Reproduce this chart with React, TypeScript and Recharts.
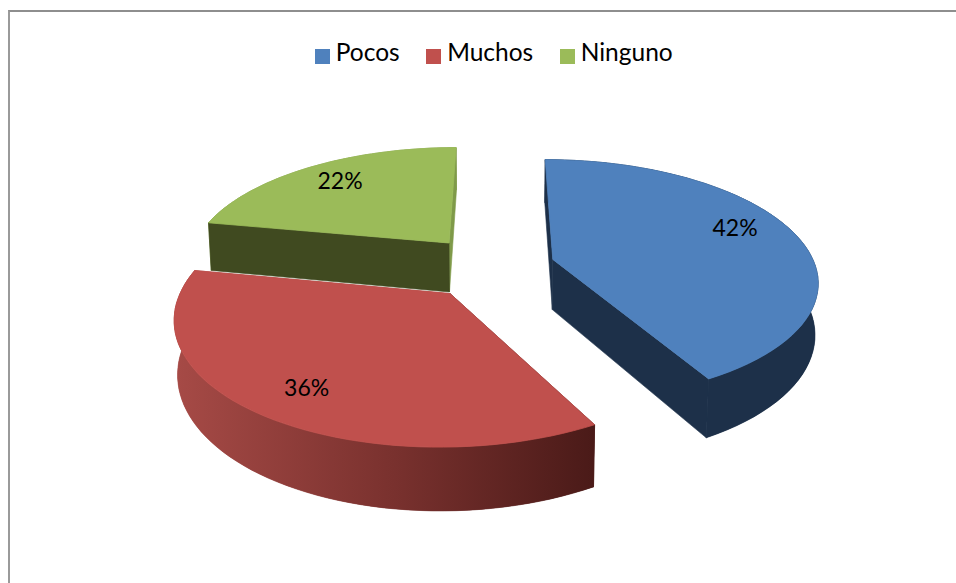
import React from 'react';
import { PieChart, Pie, Legend } from 'recharts';

const categories = ['Pocos', 'Muchos', 'Ninguno'];
const shares = [42, 36, 22];
const topColors = ['#4F81BD', '#C0504D', '#9BBB59'];

const tableData = categories.map((name, i) => ({ name, value: shares[i], fill: topColors[i] }));

// how far each slice is pulled out, in disk units
const pullU = [0.203, -0.183, -0.201];
const pullV = [-0.09, 0.19, -0.234];
const rimScale = [1, 0.99, 1];
const startWall = ['#1D3049', '#4D1C1A', '#404A20'];
const endWall = ['#1D3049', '#A34944', '#7F9A49'];
const arcWall = ['#1D3049', 'url(#redWall)', '#7F9A49'];
const labelShiftX = [-11, 6, 4];
const labelShiftY = [-10, 1, -1];

// flat disk seen in perspective
const X0 = 500;
const Y0 = 270;
const RX = 264;
const RY = 120;
const TILT = 0.17;
const DEPTH = 51;

const project = (u: number, v: number, low = false) => {
  const w = 1 - TILT * v;
  return {
    x: X0 + (RX * u) / (w + (low ? 0.01 : 0)),
    y: Y0 + (RY * v + (low ? DEPTH : 0)) / w,
  };
};

const rimPoint = (i: number, deg: number, r = 1) => {
  const a = (deg * Math.PI) / 180;
  const size = r * rimScale[i];
  return { u: pullU[i] + size * Math.cos(a), v: pullV[i] - size * Math.sin(a) };
};

const toPath = (pts: { x: number; y: number }[]) =>
  'M' + pts.map((p) => `${p.x.toFixed(1)},${p.y.toFixed(1)}`).join('L') + 'Z';

const Slice3D = (props: any) => {
  const { startAngle, endAngle, name } = props;
  const i = categories.indexOf(name);
  const steps = 60;
  const rim = [];
  for (let s = 0; s <= steps; s++) {
    rim.push(rimPoint(i, startAngle + ((endAngle - startAngle) * s) / steps));
  }
  const apex = { u: pullU[i], v: pullV[i] };
  const first = rim[0];
  const last = rim[rim.length - 1];
  const up = (p: { u: number; v: number }) => project(p.u, p.v);
  const low = (p: { u: number; v: number }) => project(p.u, p.v, true);

  return (
    <g>
      <path
        d={toPath([...rim.map(up), ...rim.map(low).reverse()])}
        fill={arcWall[i]}
        stroke={arcWall[i]}
        strokeWidth={0.6}
      />
      <path
        d={toPath([up(apex), up(last), low(last), low(apex)])}
        fill={endWall[i]}
        stroke={endWall[i]}
        strokeWidth={0.6}
      />
      <path
        d={toPath([up(apex), up(first), low(first), low(apex)])}
        fill={startWall[i]}
        stroke={startWall[i]}
        strokeWidth={0.6}
      />
      <path
        d={toPath([...rim.map(up), ...rim.map(low).reverse()])}
        fill={i === 2 ? 'none' : arcWall[i]}
      />
      <path
        d={toPath([up(apex), ...rim.map(up)])}
        fill={topColors[i]}
        stroke={topColors[i]}
        strokeWidth={0.8}
      />
    </g>
  );
};

const SliceLabel = (props: any) => {
  const { midAngle, name, value } = props;
  const i = categories.indexOf(name);
  const p = rimPoint(i, midAngle, 0.8);
  const pos = project(p.u, p.v);
  return (
    <text
      x={pos.x + labelShiftX[i]}
      y={pos.y + labelShiftY[i]}
      textAnchor="middle"
      dominantBaseline="central"
      fontSize={23}
      fill="#000"
    >
      {value}%
    </text>
  );
};

export default function App() {
  return (
    <div
      style={{
        position: 'absolute',
        left: 0,
        top: 0,
        width: 956,
        height: 583,
        background: '#fff',
        fontFamily: 'Lato, sans-serif',
      }}
    >
      <div
        style={{
          position: 'absolute',
          left: 8,
          top: 10,
          width: 948,
          height: 573,
          borderTop: '2px solid #8E8E8E',
          borderLeft: '2px solid #9A9A9A',
          boxSizing: 'border-box',
        }}
      />
      <PieChart width={956} height={583} margin={{ top: 0, right: 0, bottom: 0, left: 0 }}>
        <defs>
          <linearGradient id="redWall" gradientUnits="userSpaceOnUse" x1={176} y1={0} x2={595} y2={0}>
            <stop offset="0%" stopColor="#A64A46" />
            <stop offset="50%" stopColor="#7B322F" />
            <stop offset="100%" stopColor="#4A1A18" />
          </linearGradient>
        </defs>
        <Legend
          verticalAlign="top"
          iconType="square"
          iconSize={15}
          itemSorter={null}
          wrapperStyle={{ top: 37, left: 29 }}
          formatter={(value: string) => (
            <span style={{ color: '#000', fontSize: 24.5, marginRight: 16.5, marginLeft: 2 }}>{value}</span>
          )}
        />
        <Pie
          data={tableData}
          dataKey="value"
          nameKey="name"
          cx={X0}
          cy={Y0}
          outerRadius={RX}
          startAngle={90}
          endAngle={-270}
          shape={Slice3D}
          label={SliceLabel}
          labelLine={false}
          isAnimationActive={false}
        />
      </PieChart>
    </div>
  );
}
